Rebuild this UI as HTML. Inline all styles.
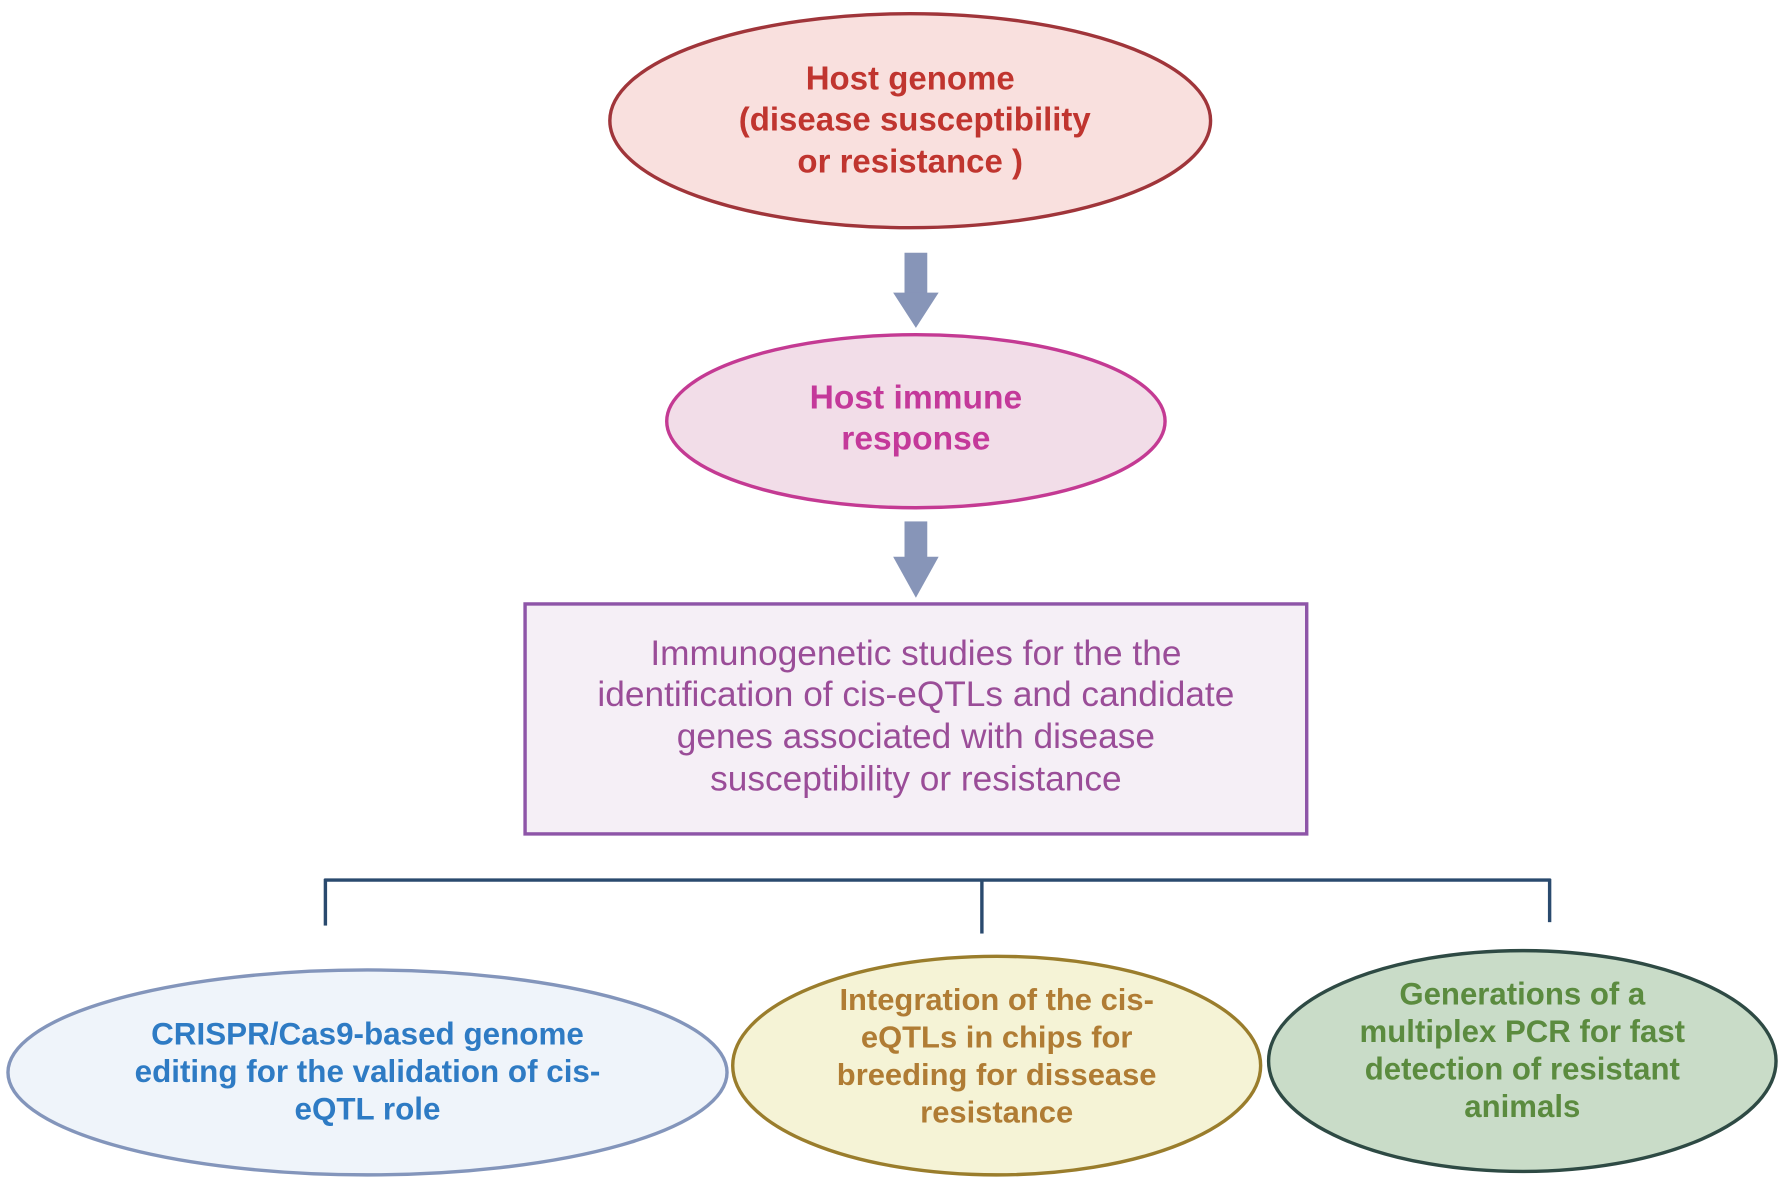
<!DOCTYPE html>
<html><head><meta charset="utf-8"><style>
html,body{margin:0;padding:0;background:#fff;}
svg{display:block;}
text{font-family:"Liberation Sans",sans-serif;text-anchor:middle;dominant-baseline:middle;}
.b{font-weight:bold;}
</style></head><body>
<svg width="1784" height="1184" viewBox="0 0 1568 1040" preserveAspectRatio="none" xmlns="http://www.w3.org/2000/svg">
<rect width="1568" height="1040" fill="#fff"/>
<ellipse cx="800" cy="106" rx="264" ry="94" fill="#f9e0de" stroke="#a0353a" stroke-width="3"/>
<g fill="#c0352f" font-size="29">
<text x="800" y="71" class="b">Host genome</text>
<text x="804" y="107" class="b">(disease susceptibility</text>
<text x="800" y="144" class="b">or resistance )</text>
</g>
<g fill="#8795b8">
<rect x="795" y="222" width="20" height="37"/><polygon points="785,257 825,257 805,288"/>
<rect x="795" y="458" width="20" height="33"/><polygon points="785,489 825,489 805,525"/>
</g>
<ellipse cx="805" cy="370" rx="219" ry="76" fill="#f2dde8" stroke="#c43a93" stroke-width="3"/>
<g fill="#c4399a" font-size="29.5">
<text x="805" y="351" class="b">Host immune</text>
<text x="805" y="387" class="b">response</text>
</g>
<rect x="461.5" y="530.5" width="687" height="202" fill="#f5eff6" stroke="#8e55a8" stroke-width="3"/>
<g fill="#9a4d98" font-size="31">
<text x="805" y="576">Immunogenetic studies for the the</text>
<text x="805" y="612">identification of cis-eQTLs and candidate</text>
<text x="805" y="649">genes associated with disease</text>
<text x="805" y="686">susceptibility or resistance</text>
</g>
<g stroke="#2a4a6e" stroke-width="3" fill="none">
<line x1="285" y1="773" x2="1363" y2="773"/>
<line x1="286" y1="772" x2="286" y2="813"/>
<line x1="863" y1="772" x2="863" y2="820"/>
<line x1="1362" y1="772" x2="1362" y2="810"/>
</g>
<ellipse cx="323" cy="942" rx="316" ry="90" fill="#eff4fa" stroke="#8395bb" stroke-width="3"/>
<g fill="#2e7bc4" font-size="27.6">
<text x="323" y="910" class="b">CRISPR/Cas9-based genome</text>
<text x="323" y="943" class="b">editing for the validation of cis-</text>
<text x="323" y="976" class="b">eQTL role</text>
</g>
<ellipse cx="876" cy="936" rx="232" ry="96" fill="#f5f3d6" stroke="#9a7d2c" stroke-width="3"/>
<g fill="#b07c34" font-size="27.2">
<text x="876" y="880" class="b">Integration of the cis-</text>
<text x="876" y="913" class="b">eQTLs in chips for</text>
<text x="876" y="946" class="b">breeding for dissease</text>
<text x="876" y="979" class="b">resistance</text>
</g>
<ellipse cx="1338" cy="932" rx="223" ry="97" fill="#c9dcc8" stroke="#2e4a44" stroke-width="3"/>
<g fill="#5b8b3f" font-size="27.4">
<text x="1338" y="875" class="b">Generations of a</text>
<text x="1338" y="908" class="b">multiplex PCR for fast</text>
<text x="1338" y="941" class="b">detection of resistant</text>
<text x="1338" y="974" class="b">animals</text>
</g>
</svg>
</body></html>
